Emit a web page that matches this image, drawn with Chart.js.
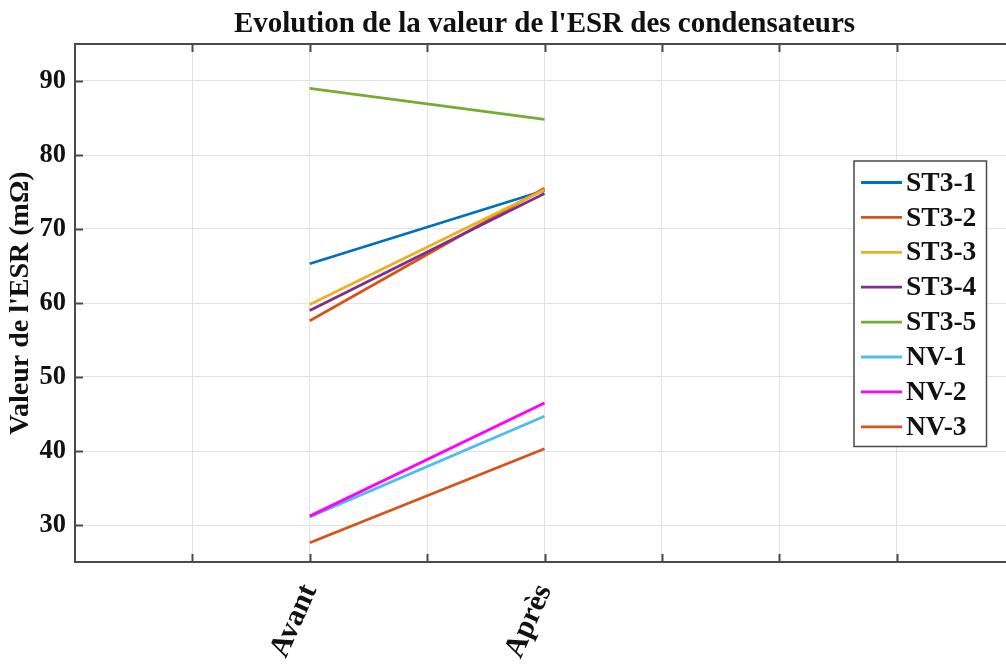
<!DOCTYPE html>
<html lang="fr">
<head>
<meta charset="utf-8">
<title>Evolution de la valeur de l'ESR des condensateurs</title>
<script src="https://cdn.jsdelivr.net/npm/chart.js@4.4.1/dist/chart.umd.min.js"></script>
<style>
  html, body { margin: 0; padding: 0; background: #ffffff; overflow: hidden; }
  #wrap { width: 1016px; height: 670px; }
  canvas { display: block; }
</style>
</head>
<body>
<div id="wrap"><canvas id="esr" width="1016" height="670"></canvas></div>
<script>
// Measurement stages and their x positions on the axis
const stages = ['Avant', 'Après'];
const stageX = [2, 4];

// Capacitor names
const seriesNames = ['ST3-1', 'ST3-2', 'ST3-3', 'ST3-4', 'ST3-5', 'NV-1', 'NV-2', 'NV-3'];

// ESR (mΩ) before / after, one small array per capacitor
const st3_1 = [65.3, 75.2];
const st3_2 = [57.6, 75.5];
const st3_3 = [59.8, 75.3];
const st3_4 = [59.0, 74.8];
const st3_5 = [89.0, 84.8];
const nv_1  = [31.1, 44.7];
const nv_2  = [31.2, 46.5];
const nv_3  = [27.6, 40.3];
const seriesValues = [st3_1, st3_2, st3_3, st3_4, st3_5, nv_1, nv_2, nv_3];

// Axis ticks
const xGridTicks = [1, 2, 3, 4, 5, 6, 7];
const yTicks = [30, 40, 50, 60, 70, 80, 90];

const chartTitle = "Evolution de la valeur de l'ESR des condensateurs";
const yTitle = "Valeur de l'ESR (mΩ)";

const colors = ['#0072BD', '#D95319', '#EDB120', '#7E2F8E', '#77AC30', '#4DBEEE', '#FF00FF', '#D95319'];

const serif = "'Liberation Serif', 'Times New Roman', serif";

const datasets = seriesNames.map((name, i) => ({
  label: name,
  data: stageX.map((x, k) => ({ x: x, y: seriesValues[i][k] })),
  borderColor: colors[i],
  backgroundColor: colors[i],
  borderWidth: 2.8,
  pointRadius: 0,
  pointHoverRadius: 0,
  tension: 0,
  fill: false,
  order: seriesNames.length - i
}));

// Title centred over the plotting area rather than the whole canvas
const axesTitle = {
  id: 'axesTitle',
  afterDraw(chart) {
    const { ctx, chartArea: a } = chart;
    ctx.save();
    ctx.font = 'bold 29px ' + serif;
    ctx.fillStyle = '#111111';
    ctx.textAlign = 'center';
    ctx.textBaseline = 'alphabetic';
    ctx.fillText(chartTitle, (a.left + a.right) / 2, 32);
    ctx.restore();
  }
};

// Box around the axes with inward tick marks on all four sides
const axesBox = {
  id: 'axesBox',
  afterDatasetsDraw(chart) {
    const { ctx, chartArea: a, scales: { x, y } } = chart;
    const len = 8;
    ctx.save();
    ctx.strokeStyle = '#4a4a4a';
    ctx.lineWidth = 2;
    ctx.strokeRect(a.left, a.top, a.right - a.left, a.bottom - a.top);
    ctx.beginPath();
    xGridTicks.forEach(v => {
      const px = Math.round(x.getPixelForValue(v)) + 0.5;
      ctx.moveTo(px, a.bottom); ctx.lineTo(px, a.bottom - len);
      ctx.moveTo(px, a.top); ctx.lineTo(px, a.top + len);
    });
    yTicks.forEach(v => {
      const py = Math.round(y.getPixelForValue(v)) + 0.5;
      ctx.moveTo(a.left, py); ctx.lineTo(a.left + len, py);
      ctx.moveTo(a.right, py); ctx.lineTo(a.right - len, py);
    });
    ctx.stroke();
    ctx.restore();
  }
};

// Boxed legend inside the axes, upper right
const boxLegend = {
  id: 'boxLegend',
  afterDraw(chart) {
    const { ctx } = chart;
    const left = 854, top = 161, width = 132.5, height = 285.5;
    const firstY = 182.5, step = 34.9;
    ctx.save();
    ctx.fillStyle = '#ffffff';
    ctx.fillRect(left, top, width, height);
    ctx.strokeStyle = '#4a4a4a';
    ctx.lineWidth = 1.5;
    ctx.strokeRect(left, top, width, height);
    ctx.font = 'bold 27.5px ' + serif;
    ctx.textBaseline = 'middle';
    ctx.textAlign = 'left';
    chart.data.datasets.forEach((ds, i) => {
      const cy = firstY + i * step;
      ctx.strokeStyle = ds.borderColor;
      ctx.lineWidth = 2.8;
      ctx.beginPath();
      ctx.moveTo(861, cy);
      ctx.lineTo(902, cy);
      ctx.stroke();
      ctx.fillStyle = '#111111';
      ctx.fillText(ds.label, 906, cy + 1);
    });
    ctx.restore();
  }
};

new Chart(document.getElementById('esr'), {
  type: 'line',
  data: { datasets },
  plugins: [axesTitle, axesBox, boxLegend],
  options: {
    responsive: false,
    animation: false,
    devicePixelRatio: 1,
    layout: { padding: { top: 44, right: 2, bottom: 0, left: 0 } },
    plugins: {
      legend: { display: false },
      tooltip: { enabled: false },
      title: { display: false }
    },
    scales: {
      x: {
        type: 'linear',
        min: 0,
        max: 8,
        afterBuildTicks: s => { s.ticks = xGridTicks.map(v => ({ value: v })); },
        afterFit: s => { s.height = 108; },
        border: { display: false },
        grid: { color: '#e2e2e2', lineWidth: 1, drawTicks: false },
        ticks: {
          autoSkip: false,
          minRotation: 66,
          maxRotation: 66,
          padding: 17,
          color: '#111111',
          font: { family: serif, size: 30, weight: 'bold' },
          callback: v => {
            const k = stageX.indexOf(v);
            return k >= 0 ? stages[k] : '';
          }
        }
      },
      y: {
        type: 'linear',
        min: 25,
        max: 95,
        afterBuildTicks: s => { s.ticks = yTicks.map(v => ({ value: v })); },
        afterFit: s => { s.width = 75; },
        border: { display: false },
        grid: { color: '#e2e2e2', lineWidth: 1, drawTicks: false },
        ticks: {
          padding: 9,
          color: '#111111',
          font: { family: serif, size: 26.5, weight: 'bold' }
        },
        title: {
          display: true,
          text: yTitle,
          color: '#111111',
          font: { family: serif, size: 28, weight: 'bold', lineHeight: 1.2 },
          padding: { top: 4, bottom: 0 }
        }
      }
    }
  }
});
</script>
</body>
</html>
